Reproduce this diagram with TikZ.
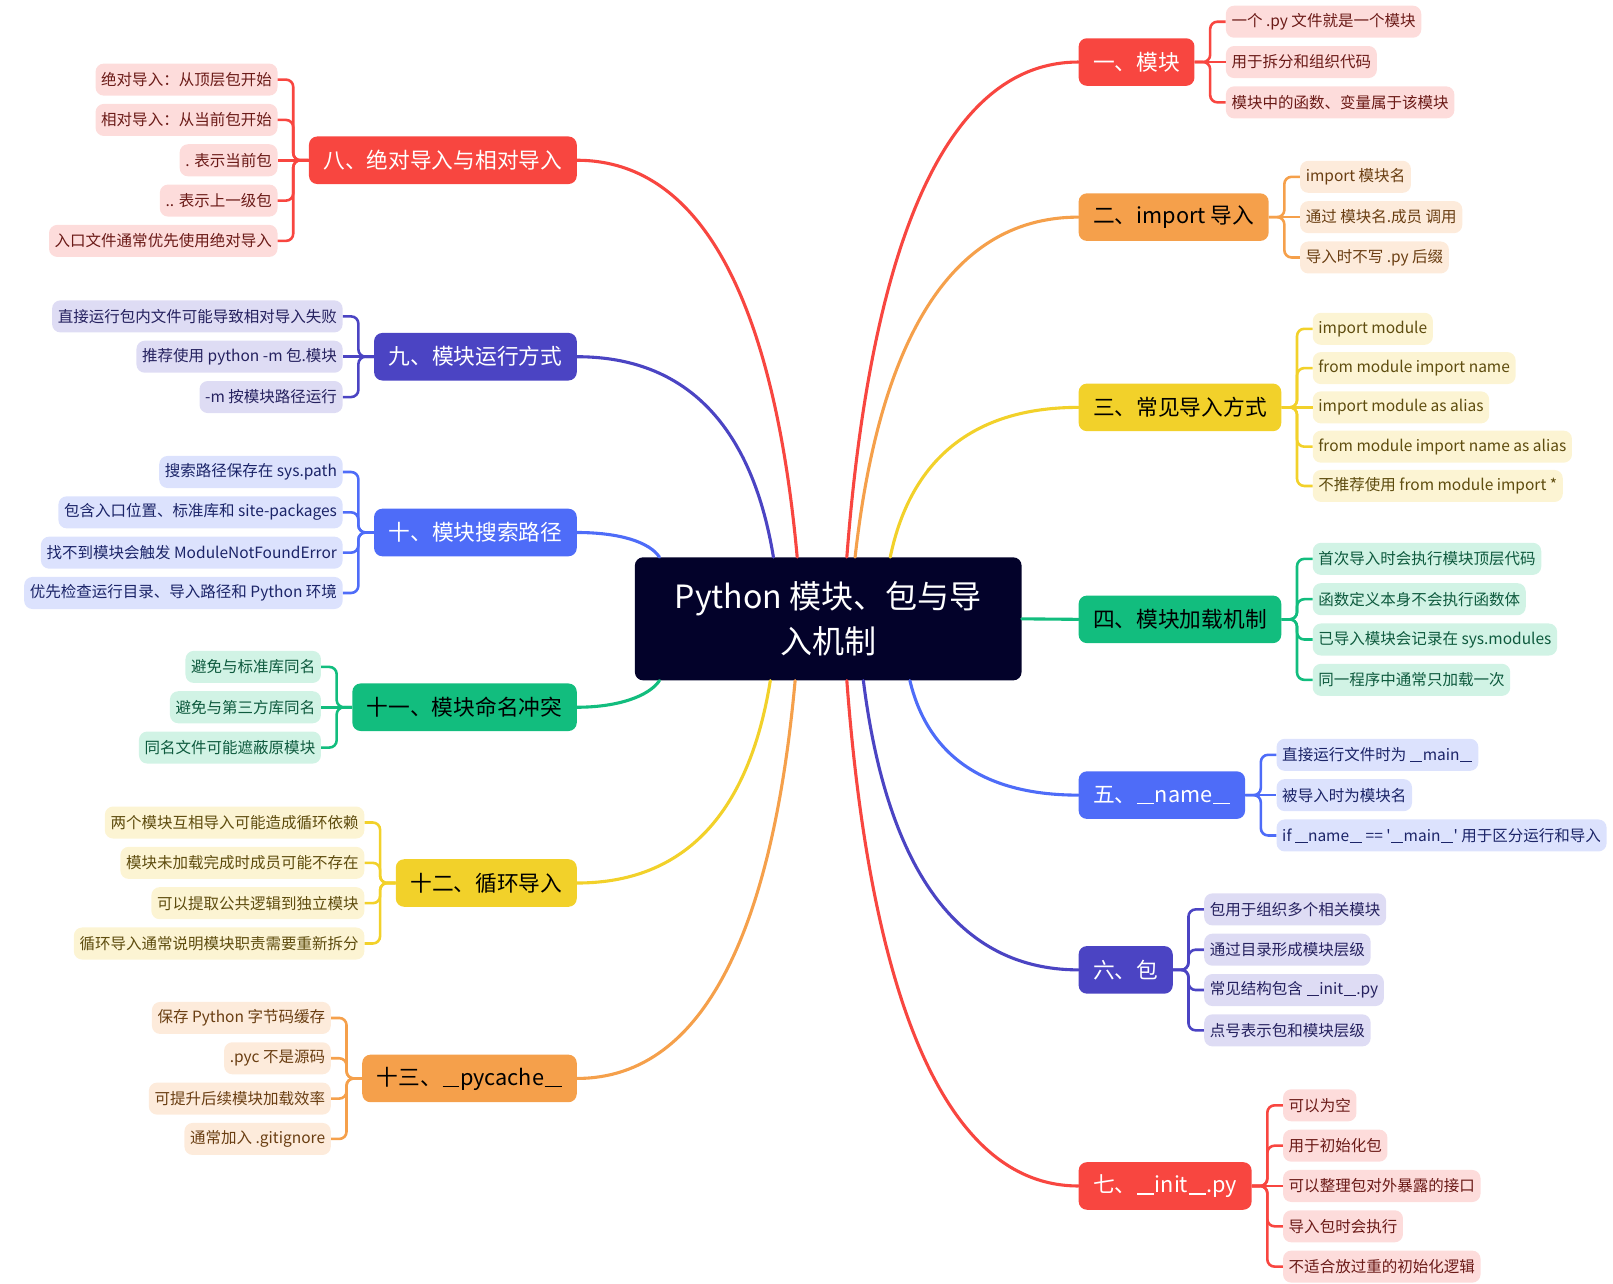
\documentclass[tikz,border=0pt]{standalone}
\usepackage{fontspec}
\setmainfont{Noto Sans CJK SC}
\usetikzlibrary{calc, positioning}
\definecolor{cRoot}{HTML}{03022A}
\definecolor{cRed}{HTML}{F84640}
\definecolor{cRedL}{HTML}{FDDCDB}
\definecolor{cRedT}{HTML}{6B1A17}
\definecolor{cOra}{HTML}{F5A04B}
\definecolor{cOraL}{HTML}{FDEBDB}
\definecolor{cOraT}{HTML}{6A3E12}
\definecolor{cYel}{HTML}{F2D12A}
\definecolor{cYelL}{HTML}{FCF4D3}
\definecolor{cYelT}{HTML}{5E4C0E}
\definecolor{cGre}{HTML}{12BD7E}
\definecolor{cGreL}{HTML}{D1F3E5}
\definecolor{cGreT}{HTML}{0E5A3E}
\definecolor{cBlu}{HTML}{4E6CF8}
\definecolor{cBluL}{HTML}{DCE2FD}
\definecolor{cBluT}{HTML}{1B2468}
\definecolor{cInd}{HTML}{4B44C3}
\definecolor{cIndL}{HTML}{DEDCF4}
\definecolor{cIndT}{HTML}{25215F}
\tikzset{root/.style={fill=cRoot, text=white, rounded corners=8pt, minimum width=374pt, minimum height=119pt, align=center, font=\fontsize{31}{43}\selectfont}}
\tikzset{branch/.style={rounded corners=8pt, minimum height=46pt, inner xsep=14pt, font=\fontsize{21}{24}\selectfont}}
\tikzset{leaf/.style={rounded corners=8pt, minimum height=31pt, inner xsep=5.5pt, font=\fontsize{15}{18}\selectfont}}
\tikzset{redb/.style={branch, fill=cRed, text=white}}
\tikzset{orab/.style={branch, fill=cOra, text=black}}
\tikzset{yelb/.style={branch, fill=cYel, text=black}}
\tikzset{greb/.style={branch, fill=cGre, text=black}}
\tikzset{blub/.style={branch, fill=cBlu, text=white}}
\tikzset{indb/.style={branch, fill=cInd, text=white}}
\tikzset{redl/.style={leaf, fill=cRedL, text=cRedT}}
\tikzset{oral/.style={leaf, fill=cOraL, text=cOraT}}
\tikzset{yell/.style={leaf, fill=cYelL, text=cYelT}}
\tikzset{grel/.style={leaf, fill=cGreL, text=cGreT}}
\tikzset{blul/.style={leaf, fill=cBluL, text=cBluT}}
\tikzset{indl/.style={leaf, fill=cIndL, text=cIndT}}
\tikzset{curve/.style={line width=3pt, line cap=round}}
\tikzset{brk/.style={line width=2.5pt, rounded corners=7pt}}
% double underscore, a little narrower than two \_
\newcommand{\usc}{\kern0.03em\rule[-0.1em]{0.78em}{0.065em}\kern0.03em}

\begin{document}
\begin{tikzpicture}[x=1pt, y=-1pt]
    \useasboundingbox (0,0) rectangle (1560,1241);

    \node[root] (root) at (801,598.5) {Python 模块、包与导\\入机制};

    % right side
    \node[redb, anchor=west] (b1) at (1043,60) {一、模块};
    \node[redl, right=30pt of b1, yshift=39pt] (l11) {一个 .py 文件就是一个模块};
    \node[redl, right=30pt of b1] (l12) {用于拆分和组织代码};
    \node[redl, right=30pt of b1, yshift=-39pt] (l13) {模块中的函数、变量属于该模块};

    \node[orab, anchor=west] (b2) at (1043,210) {二、import 导入};
    \node[oral, right=30pt of b2, yshift=39pt] (l21) {import 模块名};
    \node[oral, right=30pt of b2] (l22) {通过 模块名.成员 调用};
    \node[oral, right=30pt of b2, yshift=-39pt] (l23) {导入时不写 .py 后缀};

    \node[yelb, anchor=west] (b3) at (1043,394) {三、常见导入方式};
    \node[yell, right=30pt of b3, yshift=76pt] (l31) {import module};
    \node[yell, right=30pt of b3, yshift=38pt] (l32) {from module import name};
    \node[yell, right=30pt of b3] (l33) {import module as alias};
    \node[yell, right=30pt of b3, yshift=-38pt] (l34) {from module import name as alias};
    \node[yell, right=30pt of b3, yshift=-76pt] (l35) {不推荐使用 from module import *};

    \node[greb, anchor=west] (b4) at (1043,599) {四、模块加载机制};
    \node[grel, right=30pt of b4, yshift=58.5pt] (l41) {首次导入时会执行模块顶层代码};
    \node[grel, right=30pt of b4, yshift=19.5pt] (l42) {函数定义本身不会执行函数体};
    \node[grel, right=30pt of b4, yshift=-19.5pt] (l43) {已导入模块会记录在 sys.modules};
    \node[grel, right=30pt of b4, yshift=-58.5pt] (l44) {同一程序中通常只加载一次};

    \node[blub, anchor=west] (b5) at (1043,769) {五、\usc name\usc};
    \node[blul, right=30pt of b5, yshift=39pt] (l51) {直接运行文件时为 \usc main\usc};
    \node[blul, right=30pt of b5] (l52) {被导入时为模块名};
    \node[blul, right=30pt of b5, yshift=-39pt] (l53) {if \usc name\usc{} == \textquotesingle\usc main\usc\textquotesingle{} 用于区分运行和导入};

    \node[indb, anchor=west] (b6) at (1043,938) {六、包};
    \node[indl, right=30pt of b6, yshift=58.5pt] (l61) {包用于组织多个相关模块};
    \node[indl, right=30pt of b6, yshift=19.5pt] (l62) {通过目录形成模块层级};
    \node[indl, right=30pt of b6, yshift=-19.5pt] (l63) {常见结构包含 \usc init\usc.py};
    \node[indl, right=30pt of b6, yshift=-58.5pt] (l64) {点号表示包和模块层级};

    \node[redb, anchor=west] (b7) at (1043,1147) {七、\usc init\usc.py};
    \node[redl, right=30pt of b7, yshift=78pt] (l71) {可以为空};
    \node[redl, right=30pt of b7, yshift=39pt] (l72) {用于初始化包};
    \node[redl, right=30pt of b7] (l73) {可以整理包对外暴露的接口};
    \node[redl, right=30pt of b7, yshift=-39pt] (l74) {导入包时会执行};
    \node[redl, right=30pt of b7, yshift=-78pt] (l75) {不适合放过重的初始化逻辑};

    % left side
    \node[redb, anchor=east] (b8) at (558,155) {八、绝对导入与相对导入};
    \node[redl, left=30pt of b8, yshift=78pt] (l81) {绝对导入：从顶层包开始};
    \node[redl, left=30pt of b8, yshift=39pt] (l82) {相对导入：从当前包开始};
    \node[redl, left=30pt of b8] (l83) {. 表示当前包};
    \node[redl, left=30pt of b8, yshift=-39pt] (l84) {.. 表示上一级包};
    \node[redl, left=30pt of b8, yshift=-78pt] (l85) {入口文件通常优先使用绝对导入};

    \node[indb, anchor=east] (b9) at (558,345) {九、模块运行方式};
    \node[indl, left=30pt of b9, yshift=39pt] (l91) {直接运行包内文件可能导致相对导入失败};
    \node[indl, left=30pt of b9] (l92) {推荐使用 python -m 包.模块};
    \node[indl, left=30pt of b9, yshift=-39pt] (l93) {-m 按模块路径运行};

    \node[blub, anchor=east] (b10) at (558,515) {十、模块搜索路径};
    \node[blul, left=30pt of b10, yshift=58.5pt] (l101) {搜索路径保存在 sys.path};
    \node[blul, left=30pt of b10, yshift=19.5pt] (l102) {包含入口位置、标准库和 site-packages};
    \node[blul, left=30pt of b10, yshift=-19.5pt] (l103) {找不到模块会触发 ModuleNotFoundError};
    \node[blul, left=30pt of b10, yshift=-58.5pt] (l104) {优先检查运行目录、导入路径和 Python 环境};

    \node[greb, anchor=east] (b11) at (558,684) {十一、模块命名冲突};
    \node[grel, left=30pt of b11, yshift=39pt] (l111) {避免与标准库同名};
    \node[grel, left=30pt of b11] (l112) {避免与第三方库同名};
    \node[grel, left=30pt of b11, yshift=-39pt] (l113) {同名文件可能遮蔽原模块};

    \node[yelb, anchor=east] (b12) at (558,854) {十二、循环导入};
    \node[yell, left=30pt of b12, yshift=58.5pt] (l121) {两个模块互相导入可能造成循环依赖};
    \node[yell, left=30pt of b12, yshift=19.5pt] (l122) {模块未加载完成时成员可能不存在};
    \node[yell, left=30pt of b12, yshift=-19.5pt] (l123) {可以提取公共逻辑到独立模块};
    \node[yell, left=30pt of b12, yshift=-58.5pt] (l124) {循环导入通常说明模块职责需要重新拆分};

    \node[orab, anchor=east] (b13) at (558,1043) {十三、\usc pycache\usc};
    \node[oral, left=30pt of b13, yshift=58.5pt] (l131) {保存 Python 字节码缓存};
    \node[oral, left=30pt of b13, yshift=19.5pt] (l132) {.pyc 不是源码};
    \node[oral, left=30pt of b13, yshift=-19.5pt] (l133) {可提升后续模块加载效率};
    \node[oral, left=30pt of b13, yshift=-58.5pt] (l134) {通常加入 .gitignore};

    % main curves
    \draw[curve, cRed] ($(root.north)+(18,0)$) .. controls +(22,-287) and +(-134,0) .. (b1.west);
    \draw[curve, cOra] ($(root.north)+(26,0)$) .. controls +(22,-197) and +(-130,0) .. (b2.west);
    \draw[curve, cYel] ($(root.north)+(60,0)$) .. controls +(18,-87) and +(-109,0) .. (b3.west);
    \draw[curve, cGre] (root.east) -- (b4.west);
    \draw[curve, cBlu] ($(root.south)+(79,0)$) .. controls +(16,67) and +(-98,0) .. (b5.west);
    \draw[curve, cInd] ($(root.south)+(34,0)$) .. controls +(21,168) and +(-125,0) .. (b6.west);
    \draw[curve, cRed] ($(root.south)+(18,0)$) .. controls +(22,293) and +(-134,0) .. (b7.west);
    \draw[curve, cRed] ($(root.north)+(-30,0)$) .. controls +(-21,-230) and +(128,0) .. (b8.east);
    \draw[curve, cInd] ($(root.north)+(-53,0)$) .. controls +(-19,-116) and +(114,0) .. (b9.east);
    \draw[curve, cBlu] ($(root.north west)+(24,0)$) .. controls +(-10,-15) and +(40,0) .. (b10.east);
    \draw[curve, cGre] ($(root.south west)+(24,0)$) .. controls +(-10,15) and +(40,0) .. (b11.east);
    \draw[curve, cYel] ($(root.south)+(-56,0)$) .. controls +(-19,118) and +(112,0) .. (b12.east);
    \draw[curve, cOra] ($(root.south)+(-32,0)$) .. controls +(-21,231) and +(127,0) .. (b13.east);

    % brackets
    \draw[brk, cRed] (b1.east) -- ++(15,0) |- (l11.west);
    \draw[brk, cRed] (b1.east) -- (l12.west);
    \draw[brk, cRed] (b1.east) -- ++(15,0) |- (l13.west);
    \draw[brk, cOra] (b2.east) -- ++(15,0) |- (l21.west);
    \draw[brk, cOra] (b2.east) -- (l22.west);
    \draw[brk, cOra] (b2.east) -- ++(15,0) |- (l23.west);
    \draw[brk, cYel] (b3.east) -- ++(15,0) |- (l31.west);
    \draw[brk, cYel] (b3.east) -- ++(15,0) |- (l32.west);
    \draw[brk, cYel] (b3.east) -- (l33.west);
    \draw[brk, cYel] (b3.east) -- ++(15,0) |- (l34.west);
    \draw[brk, cYel] (b3.east) -- ++(15,0) |- (l35.west);
    \draw[brk, cGre] (b4.east) -- ++(15,0) |- (l41.west);
    \draw[brk, cGre] (b4.east) -- ++(15,0) |- (l42.west);
    \draw[brk, cGre] (b4.east) -- ++(15,0) |- (l43.west);
    \draw[brk, cGre] (b4.east) -- ++(15,0) |- (l44.west);
    \draw[brk, cBlu] (b5.east) -- ++(15,0) |- (l51.west);
    \draw[brk, cBlu] (b5.east) -- (l52.west);
    \draw[brk, cBlu] (b5.east) -- ++(15,0) |- (l53.west);
    \draw[brk, cInd] (b6.east) -- ++(15,0) |- (l61.west);
    \draw[brk, cInd] (b6.east) -- ++(15,0) |- (l62.west);
    \draw[brk, cInd] (b6.east) -- ++(15,0) |- (l63.west);
    \draw[brk, cInd] (b6.east) -- ++(15,0) |- (l64.west);
    \draw[brk, cRed] (b7.east) -- ++(15,0) |- (l71.west);
    \draw[brk, cRed] (b7.east) -- ++(15,0) |- (l72.west);
    \draw[brk, cRed] (b7.east) -- (l73.west);
    \draw[brk, cRed] (b7.east) -- ++(15,0) |- (l74.west);
    \draw[brk, cRed] (b7.east) -- ++(15,0) |- (l75.west);
    \draw[brk, cRed] (b8.west) -- ++(-15,0) |- (l81.east);
    \draw[brk, cRed] (b8.west) -- ++(-15,0) |- (l82.east);
    \draw[brk, cRed] (b8.west) -- (l83.east);
    \draw[brk, cRed] (b8.west) -- ++(-15,0) |- (l84.east);
    \draw[brk, cRed] (b8.west) -- ++(-15,0) |- (l85.east);
    \draw[brk, cInd] (b9.west) -- ++(-15,0) |- (l91.east);
    \draw[brk, cInd] (b9.west) -- (l92.east);
    \draw[brk, cInd] (b9.west) -- ++(-15,0) |- (l93.east);
    \draw[brk, cBlu] (b10.west) -- ++(-15,0) |- (l101.east);
    \draw[brk, cBlu] (b10.west) -- ++(-15,0) |- (l102.east);
    \draw[brk, cBlu] (b10.west) -- ++(-15,0) |- (l103.east);
    \draw[brk, cBlu] (b10.west) -- ++(-15,0) |- (l104.east);
    \draw[brk, cGre] (b11.west) -- ++(-15,0) |- (l111.east);
    \draw[brk, cGre] (b11.west) -- (l112.east);
    \draw[brk, cGre] (b11.west) -- ++(-15,0) |- (l113.east);
    \draw[brk, cYel] (b12.west) -- ++(-15,0) |- (l121.east);
    \draw[brk, cYel] (b12.west) -- ++(-15,0) |- (l122.east);
    \draw[brk, cYel] (b12.west) -- ++(-15,0) |- (l123.east);
    \draw[brk, cYel] (b12.west) -- ++(-15,0) |- (l124.east);
    \draw[brk, cOra] (b13.west) -- ++(-15,0) |- (l131.east);
    \draw[brk, cOra] (b13.west) -- ++(-15,0) |- (l132.east);
    \draw[brk, cOra] (b13.west) -- ++(-15,0) |- (l133.east);
    \draw[brk, cOra] (b13.west) -- ++(-15,0) |- (l134.east);

\end{tikzpicture}
\end{document}
